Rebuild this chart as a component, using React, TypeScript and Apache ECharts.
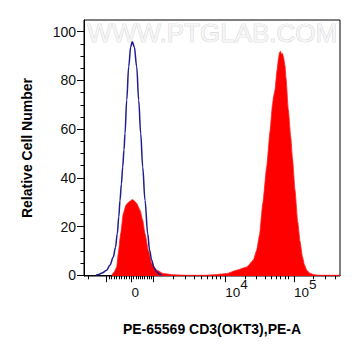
import React, { useEffect, useRef } from "react";
import * as echarts from "echarts";

// x is expressed in display (logicle) channel units across the plot, 0..256
const xRange = [0, 256];
const yRange = [-0.3, 104.8];

// isotype / unstained control (blue outline)
const controlCurve: [number, number][] = [
  [12, 0], [14.3, 0.3], [18, 0.9], [22.7, 2.1], [26, 4.2], [29.3, 7.5], [31.5, 11.5],
  [33.3, 17.1], [34.8, 24], [36, 30.8], [37.4, 37.5], [38.7, 44.5], [40, 51.5],
  [41, 58.2], [42.7, 71.9], [44.7, 85.6], [46.7, 93.8], [48.3, 95.9], [50.3, 93.8],
  [52.7, 85.6], [54.7, 71.9], [56.7, 58.2], [58.7, 44.5], [61, 30.8], [63.7, 17.1],
  [65.5, 10.5], [67.7, 6.2], [70, 3.2], [72.7, 1.4], [75, 0.5], [77.7, 0],
];

// stained sample (red filled)
const sampleCurve: [number, number][] = [
  [27.7, 0], [30, 1.2], [32.7, 3.4], [34.3, 8.9], [36.7, 17.1], [39.3, 25.3], [42, 28.8],
  [44, 29.8], [46, 30.4], [48.3, 31.1], [50.5, 30.5], [52.7, 29.5], [56, 26.7],
  [58.7, 22.6], [61, 17.1], [64.3, 10.3], [67.7, 4.8], [72.7, 2.1], [79.3, 0.7],
  [89.3, 0.2], [102.7, 0], [120, 0], [130, 0.2], [142.7, 0.7], [152.7, 2.1],
  [162.7, 3.4], [169.3, 6.2], [172.7, 10.3], [175.5, 16.5], [178.8, 29.5], [182.7, 44.5],
  [186, 59], [188.5, 70], [189.5, 73.3], [191, 76], [193, 84], [194.5, 89], [195.5, 91.5],
  [196.5, 92], [197.5, 90.8], [198.5, 91], [199.5, 89.5], [201, 86], [202, 81],
  [204.3, 68], [206.7, 57], [208.5, 48], [211, 35], [213.7, 22], [216, 14], [218.5, 7.5],
  [220.5, 4.2], [222.7, 2.1], [226, 0.8], [229.3, 0.3], [234, 0], [256, 0],
];

// x axis ticks (display units)
const xMajorTicks = [22.7, 47.5, 69.3, 141.3, 210];
const xMinorTicks = [
  4.3, 25.2, 27.7, 30.1, 32.6, 35.1, 37.6, 40.1, 42.5, 45.0, 49.7, 51.9, 54.0, 56.2,
  58.4, 60.6, 62.8, 64.9, 67.1, 89, 101, 110.5, 117.5, 123.5, 128.5, 132.7, 136.5,
  161, 172.7, 181, 187.7, 192.7, 196.7, 201, 204.3, 229, 241, 251,
];
const xLabelPositions = [47.5, 141.3, 210];
const xLabelBases = ["0", "10", "10"];
const xLabelExponents = ["", "4", "5"];

// y axis ticks
const yMajorTicks = [0, 20, 40, 60, 80, 100];
const yMinorTicks = [5, 10, 15, 25, 30, 35, 45, 50, 55, 65, 70, 75, 85, 90, 95];

const FONT = "'Liberation Sans', Arial, Helvetica, sans-serif";

export default function App() {
  const ref = useRef<HTMLDivElement>(null);
  useEffect(() => {
    if (!ref.current) return;
    const chart = echarts.init(ref.current, undefined, { renderer: "svg" });
    const grid = { left: 84, right: 21, top: 20, bottom: 80 };
    const nearest = (v: number) => {
      let i = 0;
      let best = Infinity;
      xLabelPositions.forEach((p, k) => {
        if (Math.abs(p - v) < best) { best = Math.abs(p - v); i = k; }
      });
      return i;
    };
    chart.setOption({
      animation: false,
      backgroundColor: "#ffffff",
      grid: { ...grid, show: true, borderColor: "#000", borderWidth: 1, backgroundColor: "transparent" },
      graphic: [
        {
          type: "text",
          left: 87,
          top: 20,
          z: 0,
          style: {
            text: "WWW.PTGLAB.COM",
            font: `26px ${FONT}`,
            fill: "#f5f5f5",
            stroke: "#c8c8c8",
            lineWidth: 0.7,
          },
        },
      ],
      xAxis: [
        {
          type: "value",
          min: xRange[0],
          max: xRange[1],
          position: "bottom",
          splitLine: { show: false },
          axisLine: { show: true, lineStyle: { color: "#000", width: 1 } },
          axisTick: { show: true, customValues: xMajorTicks, length: 7, lineStyle: { color: "#000", width: 1 } },
          axisLabel: {
            show: true,
            customValues: xLabelPositions,
            align: "left",
            margin: 9,
            hideOverlap: false,
            formatter: (v: number) => {
              const i = nearest(v);
              const e = xLabelExponents[i];
              return `{n|${xLabelBases[i]}}{s|${e === "" ? " " : e}}`;
            },
            rich: {
              n: { fontSize: 13.5, fontFamily: FONT, color: "#111", lineHeight: 14, verticalAlign: "bottom" },
              s: { fontSize: 13.5, fontFamily: FONT, color: "#111", lineHeight: 14, verticalAlign: "bottom", padding: [0, 0, 8, 0] },
            },
          },
          name: "PE-65569 CD3(OKT3),PE-A",
          nameLocation: "middle",
          nameGap: 46,
          nameTextStyle: { fontSize: 14, fontWeight: "bold", fontFamily: FONT, color: "#000" },
        },
        {
          type: "value",
          min: xRange[0],
          max: xRange[1],
          position: "bottom",
          splitLine: { show: false },
          axisLine: { show: false },
          axisTick: { show: true, customValues: xMinorTicks, length: 4, lineStyle: { color: "#000", width: 1 } },
          axisLabel: { show: false },
        },
      ],
      yAxis: [
        {
          type: "value",
          min: yRange[0],
          max: yRange[1],
          position: "left",
          splitLine: { show: false },
          axisLine: { show: true, lineStyle: { color: "#000", width: 1 } },
          axisTick: { show: true, customValues: yMajorTicks, length: 7, lineStyle: { color: "#000", width: 1 } },
          axisLabel: {
            show: true,
            customValues: yMajorTicks,
            margin: 8,
            fontSize: 14,
            fontFamily: FONT,
            color: "#111",
          },
          name: "Relative Cell Number",
          nameLocation: "middle",
          nameGap: 50,
          nameTextStyle: { fontSize: 14, fontWeight: "bold", fontFamily: FONT, color: "#000" },
        },
        {
          type: "value",
          min: yRange[0],
          max: yRange[1],
          position: "left",
          splitLine: { show: false },
          axisLine: { show: false },
          axisTick: { show: true, customValues: yMinorTicks, length: 3.5, lineStyle: { color: "#000", width: 1 } },
          axisLabel: { show: false },
        },
      ],
      series: [
        {
          type: "line",
          name: "sample",
          data: sampleCurve,
          xAxisIndex: 0,
          yAxisIndex: 0,
          showSymbol: false,
          symbol: "none",
          smooth: 0.15,
          smoothMonotone: "x",
          lineStyle: { color: "#ff2020", width: 0.8 },
          areaStyle: { color: "#ff0000", opacity: 1, origin: "start" },
          z: 2,
        },
        {
          type: "line",
          name: "control",
          data: controlCurve,
          xAxisIndex: 0,
          yAxisIndex: 0,
          showSymbol: false,
          symbol: "none",
          smooth: 0.35,
          smoothMonotone: "x",
          lineStyle: { color: "#1e1e8c", width: 1.5 },
          z: 3,
        },
      ],
    });
    return () => chart.dispose();
  }, []);
  return <div ref={ref} style={{ width: 361, height: 356, position: "absolute", left: 0, top: 0 }} />;
}
